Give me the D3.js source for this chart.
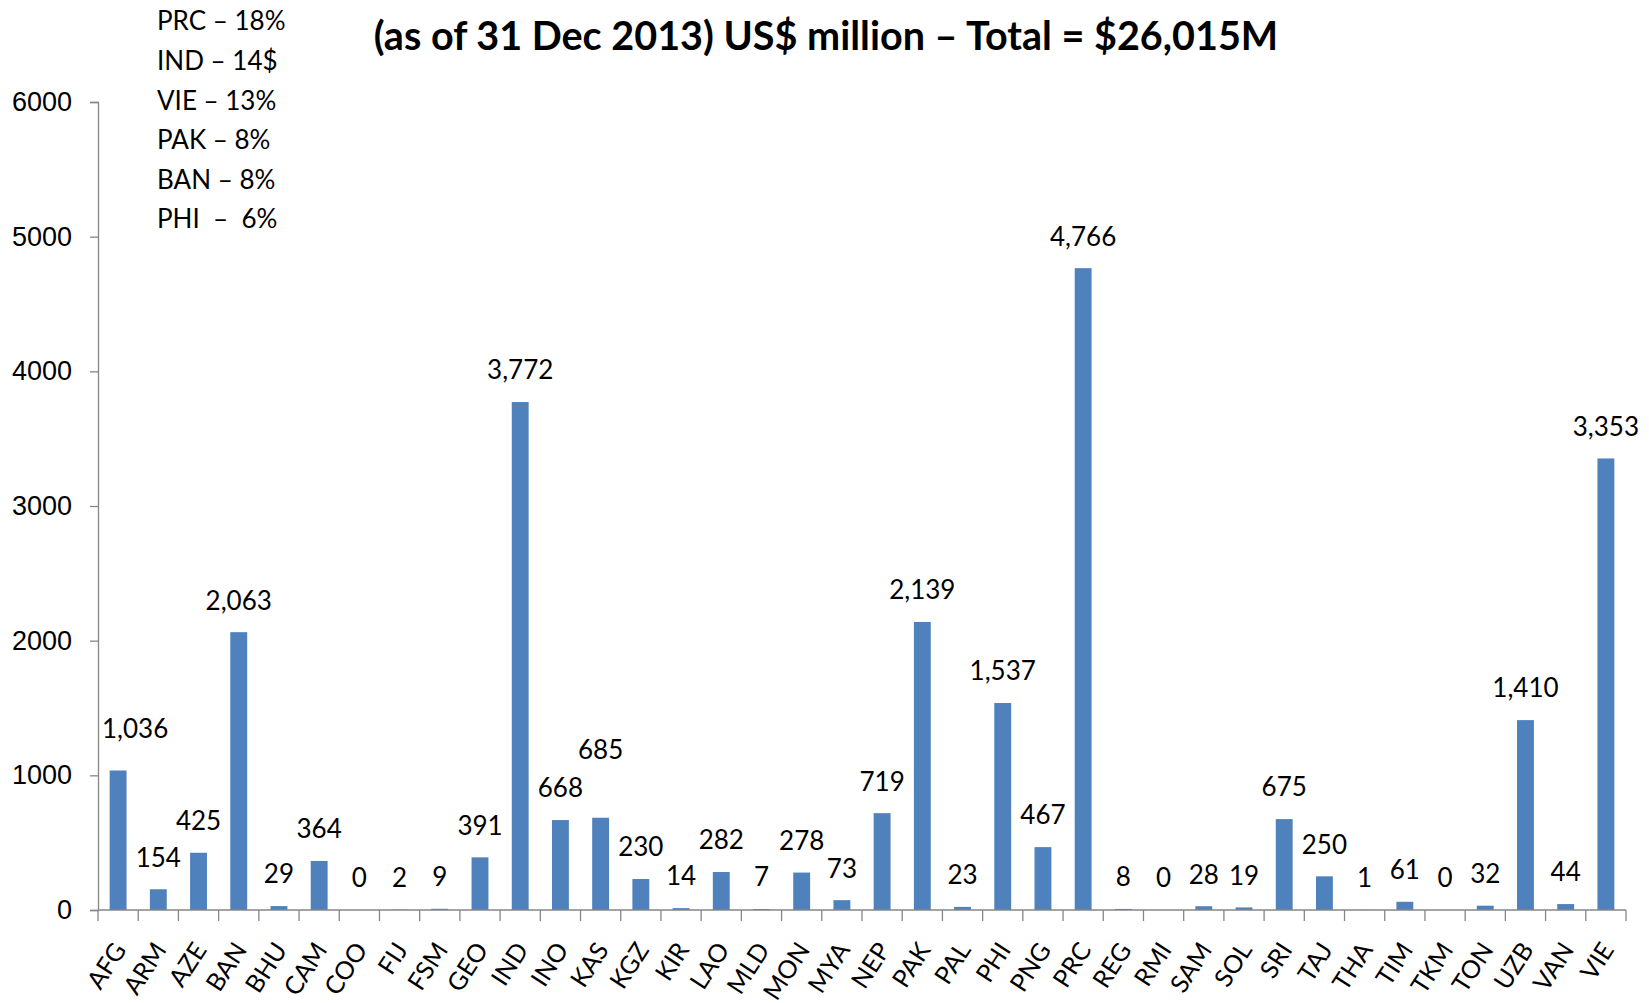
<!DOCTYPE html>
<html>
<head>
<meta charset="utf-8">
<script src="https://cdn.jsdelivr.net/npm/d3@7"></script>
<style>
  body { margin: 0; background: #fff; }
  svg { display: block; font-family: Lato, "Open Sans", sans-serif; }
</style>
</head>
<body>
<svg></svg>
<script>
var countries = ['AFG','ARM','AZE','BAN','BHU','CAM','COO','FIJ','FSM','GEO','IND','INO','KAS','KGZ','KIR','LAO','MLD','MON','MYA','NEP','PAK','PAL','PHI','PNG','PRC','REG','RMI','SAM','SOL','SRI','TAJ','THA','TIM','TKM','TON','UZB','VAN','VIE'];
var amounts = [1036,154,425,2063,29,364,0,2,9,391,3772,668,685,230,14,282,7,278,73,719,2139,23,1537,467,4766,8,0,28,19,675,250,1,61,0,32,1410,44,3353];
var yTicks = [0,1000,2000,3000,4000,5000,6000];
var shares = ['PRC \u2013 18%','IND \u2013 14$','VIE \u2013 13%','PAK \u2013 8%','BAN \u2013 8%','PHI  \u2013  6%'];
var title = '(as of 31 Dec 2013) US$ million \u2013 Total = $26,015M';

// labels that were dragged away from the default spot in the original
var labelShift = { AFG: [17, -10], KAS: [0, -36] };

var W = 1649, H = 1003;
var margin = { left: 98, right: 23, top: 102, bottom: 93 };

var svg = d3.select('svg').attr('width', W).attr('height', H);
svg.append('rect').attr('width', W).attr('height', H).attr('fill', '#fff');

var x = d3.scaleBand()
	.domain(countries)
	.range([margin.left, W - margin.right])
	.paddingInner(0.58).paddingOuter(0.29);

var y = d3.scaleLinear()
	.domain([0, 6000])
	.range([H - margin.bottom, margin.top]);

var axisColor = '#868686';

// y axis
var yAxis = svg.append('g')
	.attr('transform', 'translate(' + margin.left + ',0)')
	.call(d3.axisLeft(y).tickValues(yTicks).tickFormat(d3.format('d')).tickSize(8).tickPadding(18));
yAxis.selectAll('line, path').attr('stroke', axisColor).attr('stroke-width', 1.3);
yAxis.selectAll('text').attr('font-size', 27).attr('fill', '#000').attr('font-family', null);

// bars
svg.append('g').selectAll('rect')
	.data(countries)
	.enter().append('rect')
		.attr('x', function(d) { return x(d); })
		.attr('y', function(d, i) { return y(amounts[i]); })
		.attr('width', x.bandwidth())
		.attr('height', function(d, i) { return y(0) - y(amounts[i]); })
		.attr('fill', '#4f81bd');

// x axis with ticks between categories
var step = x.step();
var xAxis = svg.append('g').attr('transform', 'translate(0,' + y(0) + ')');
xAxis.append('line')
	.attr('x1', margin.left).attr('x2', W - margin.right)
	.attr('stroke', axisColor).attr('stroke-width', 1.3);
xAxis.selectAll('line.tick')
	.data(d3.range(countries.length + 1))
	.enter().append('line').attr('class', 'tick')
		.attr('x1', function(i) { return margin.left + i * step; })
		.attr('x2', function(i) { return margin.left + i * step; })
		.attr('y1', 0).attr('y2', 11)
		.attr('stroke', axisColor).attr('stroke-width', 1.3);
xAxis.selectAll('text')
	.data(countries)
	.enter().append('text')
		.attr('transform', function(d) {
			return 'translate(' + (x(d) + x.bandwidth() / 2 - 6) + ',30) rotate(-57)';
		})
		.attr('text-anchor', 'end')
		.attr('dy', '0.72em')
		.attr('font-size', 25)
		.text(function(d) { return d; });

// value labels
var fmt = d3.format(',');
svg.append('g').selectAll('text')
	.data(countries)
	.enter().append('text')
		.attr('x', function(d) { return x(d) + x.bandwidth() / 2 + (labelShift[d] ? labelShift[d][0] : 0); })
		.attr('y', function(d, i) { return y(amounts[i]) - 32 + (labelShift[d] ? labelShift[d][1] : 0); })
		.attr('dy', '0.36em')
		.attr('text-anchor', 'middle')
		.attr('font-size', 26)
		.text(function(d, i) { return fmt(amounts[i]); });

// share notes
svg.append('g').selectAll('text')
	.data(shares)
	.enter().append('text')
		.attr('x', 157)
		.attr('y', function(d, i) { return 21 + i * 39.6; })
		.attr('dy', '0.36em')
		.attr('font-size', 26)
		.attr('xml:space', 'preserve')
		.style('white-space', 'pre')
		.text(function(d) { return d; });

// title, sized to the original width
var t = svg.append('text')
	.attr('x', 826)
	.attr('y', 36)
	.attr('dy', '0.36em')
	.attr('text-anchor', 'middle')
	.attr('font-size', 40)
	.attr('font-weight', 'bold')
	.text(title);
var tw = t.node().getComputedTextLength();
t.attr('font-size', 40 * 905 / tw);
</script>
</body>
</html>
